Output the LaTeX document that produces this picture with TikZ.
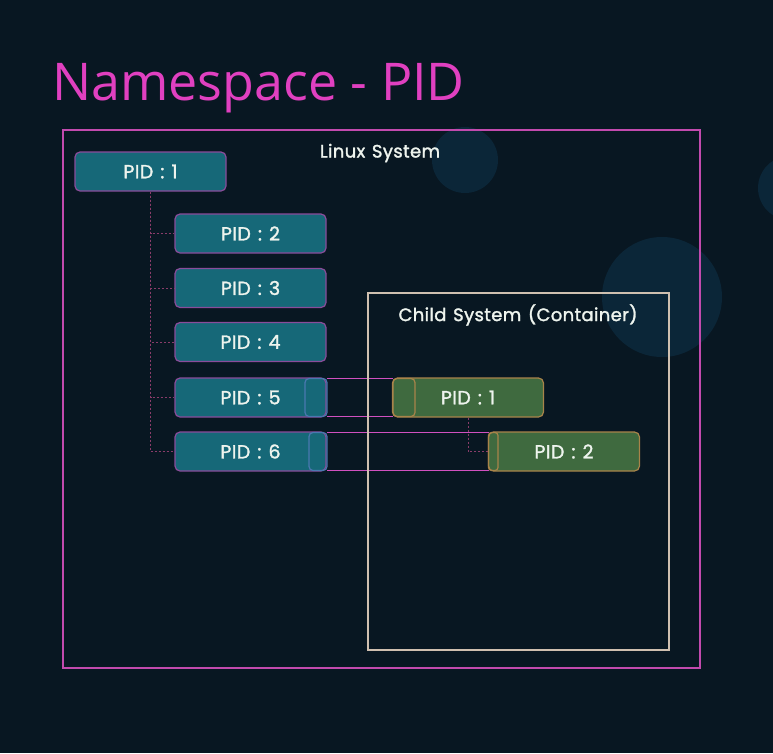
\documentclass[tikz,border=0pt]{standalone}
\usepackage{fontspec}
\setmainfont{Poppins}[FakeBold=1.6, WordSpace={1.3}, LetterSpace=2]
\newfontfamily\titlefont{Open Sans}
\definecolor{bgc}{HTML}{081722}
\definecolor{circc}{HTML}{0B2638}
\definecolor{tealf}{HTML}{166878}
\definecolor{tealb}{HTML}{8A4C9A}
\definecolor{greenf}{HTML}{3F6A3F}
\definecolor{greenb}{HTML}{A8844A}
\definecolor{outerc}{HTML}{C24AAE}
\definecolor{treec}{HTML}{8A3C6A}
\definecolor{childc}{HTML}{CFC0B0}
\definecolor{linkc}{HTML}{D050C0}
\definecolor{capl}{HTML}{4A78B0}
\definecolor{txtc}{HTML}{EEF4EE}
\definecolor{titlec}{HTML}{E040C0}
\tikzset{
  pidbox/.style={draw=tealb, fill=tealf, line width=1.2pt, rounded corners=5pt,
    minimum width=151pt, minimum height=39pt, inner sep=0pt, text=txtc,
    font=\fontsize{19}{21}\selectfont},
  childpid/.style={pidbox, draw=greenb, fill=greenf},
  tree/.style={draw=treec, dashed, dash pattern=on 2pt off 2pt, line width=0.8pt},
  link/.style={draw=linkc, line width=1.2pt},
  capleft/.style={draw=capl, line width=1.2pt, rounded corners=4pt},
  capright/.style={draw=greenb, line width=1.2pt, rounded corners=4pt},
  lbl/.style={text=txtc, font=\fontsize{18}{20}\selectfont, inner sep=0pt}
}
\begin{document}
\begin{tikzpicture}[x=1pt,y=-1pt]
\useasboundingbox (0,0) rectangle (773,753);
\fill[bgc] (0,0) rectangle (773,753);
% background circles
\fill[circc] (465,160) circle[radius=33];
\fill[circc] (662,297) circle[radius=60];
\fill[circc] (790,188) circle[radius=32];
% title
\node[anchor=base west, text=titlec, inner sep=0pt, font=\titlefont\fontsize{52}{56}\selectfont] (title) at (52,100) {Namespace - PID};
% outer box
\draw[outerc, line width=1.5pt] (63,130) rectangle (700,668);
\node[lbl] (linux) at (380,153) {Linux System};
% host pids
\node[pidbox] (p1) at (150.5,171.5) {PID : 1};
\node[pidbox] (p2) at (250.5,233.5) {PID : 2};
\node[pidbox] (p3) at (250.5,288) {PID : 3};
\node[pidbox] (p4) at (250.5,342) {PID : 4};
\node[pidbox] (p5) at (250.5,397.5) {PID : 5};
\node[pidbox] (p6) at (250.5,451.5) {PID : 6};
\draw[tree] (p1.south) |- (p2.west);
\draw[tree] (p1.south) |- (p3.west);
\draw[tree] (p1.south) |- (p4.west);
\draw[tree] (p1.south) |- (p5.west);
\draw[tree] (p1.south) |- (p6.west);
% child pids
\node[childpid] (c1) at (468,397.5) {PID : 1};
\node[childpid] (c2) at (564,451.5) {PID : 2};
\draw[tree] (c1.south) |- (c2.west);
% links
\coordinate (l1a) at (305,378.5);
\coordinate (l1b) at (327,416.5);
\coordinate (r1a) at (393,378.5);
\coordinate (r1b) at (415,416.5);
\draw[link] (l1b |- l1a) -- (r1a);
\draw[link] (l1b) -- (r1a |- l1b);
\draw[capleft] (l1a) rectangle (l1b);
\draw[capright] (r1a) rectangle (r1b);
\coordinate (l2a) at (309,432.5);
\coordinate (l2b) at (327,470.5);
\coordinate (r2a) at (488.5,432.5);
\coordinate (r2b) at (498,470.5);
\draw[link] (l2b |- l2a) -- (r2a);
\draw[link] (l2b) -- (r2a |- l2b);
\draw[capleft] (l2a) rectangle (l2b);
\draw[capright, rounded corners=3pt] (r2a) rectangle (r2b);
% child system box
\draw[childc, line width=1.3pt] (368,293) rectangle (669,650);
\node[lbl] (child) at (518,315) {Child System (Container)};
\end{tikzpicture}
\end{document}
